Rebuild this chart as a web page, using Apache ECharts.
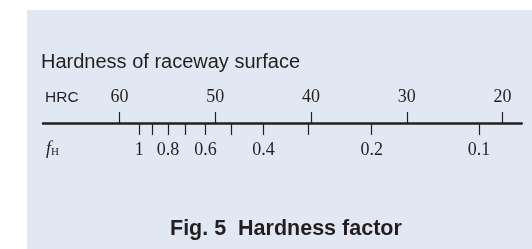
<!DOCTYPE html>
<html><head><meta charset="utf-8">
<script src="https://cdn.jsdelivr.net/npm/echarts@6/dist/echarts.min.js"></script>
<style>html,body{margin:0;padding:0;background:#fff}#c{width:532px;height:249px}</style>
</head><body><div id="c"></div>
<script>
// HRC scale ticks (hardness of raceway surface)
const hrcTicks = [60, 50, 40, 30, 20];
// Hardness factor fH values and their position on the HRC scale
const fhValues    = [1, 0.9, 0.8, 0.7, 0.6, 0.5, 0.4, 0.3, 0.2, 0.1];
const fhPositions = [57.94, 56.62, 54.95, 53.18, 51.03, 48.35, 44.98, 40.34, 33.67, 22.47];
const fhLabeled   = [1, 0.8, 0.6, 0.4, 0.2, 0.1];

const axisMin = 18, axisMax = 68;
const ink = '#231f20';
const serif = '"Liberation Serif", "DejaVu Serif", serif';
const sans = '"Liberation Sans", Arial, sans-serif';

const fhLabelPos = fhLabeled.map(v => fhPositions[fhValues.indexOf(v)]);
function fhFormat(val) {
  let best = 0, d = Infinity;
  fhPositions.forEach((p, i) => { const dd = Math.abs(p - val); if (dd < d) { d = dd; best = i; } });
  return String(fhValues[best]);
}

const chart = echarts.init(document.getElementById('c'), null, {renderer: 'canvas'});
chart.setOption({
  animation: false,
  backgroundColor: '#ffffff',
  graphic: [
    {type: 'rect', shape: {x: 27, y: 10, width: 505, height: 239}, style: {fill: '#e1e8f4'}, z: -10, silent: true},
    {type: 'text', left: 41, top: 52, style: {text: 'Hardness of raceway surface', font: '20px ' + sans, fill: ink}},
    {type: 'text', left: 45, top: 90, style: {text: 'HRC', font: '15.5px ' + sans, fill: ink}},
    {type: 'text', left: 46, top: 140, style: {
      text: '{f|f}{h|H}',
      rich: {
        f: {fontFamily: serif, fontStyle: 'italic', fontSize: 18, fill: ink, color: ink},
        h: {fontFamily: serif, fontSize: 11, fill: ink, color: ink, verticalAlign: 'bottom', padding: [5, 0, 0, 0]}
      }
    }},
    {type: 'text', left: 170, top: 218, style: {text: 'Fig. 5  Hardness factor', font: 'bold 21.5px ' + sans, fill: ink}}
  ],
  grid: {left: 43, right: 10.3, top: 113, height: 10},
  xAxis: [
    {
      type: 'value', min: axisMin, max: axisMax, inverse: true, position: 'bottom',
      splitLine: {show: false},
      axisLine: {show: true, lineStyle: {color: ink, width: 2.5}},
      axisTick: {show: true, inside: true, length: 11, lineStyle: {color: ink, width: 1.2}, customValues: hrcTicks},
      axisLabel: {show: true, inside: true, margin: 17, customValues: hrcTicks,
        fontFamily: serif, fontSize: 18, color: ink, formatter: v => String(v)}
    },
    {
      type: 'value', min: axisMin, max: axisMax, inverse: true, position: 'bottom',
      splitLine: {show: false},
      axisLine: {show: false},
      axisTick: {show: true, inside: false, length: 12, lineStyle: {color: ink, width: 1.2}, customValues: fhPositions},
      axisLabel: {show: true, margin: 18, customValues: fhLabelPos,
        fontFamily: serif, fontSize: 18, color: ink, formatter: fhFormat}
    }
  ],
  yAxis: {type: 'value', show: false, min: 0, max: 1},
  series: [{type: 'scatter', data: [], xAxisIndex: 0}]
});
</script></body></html>
